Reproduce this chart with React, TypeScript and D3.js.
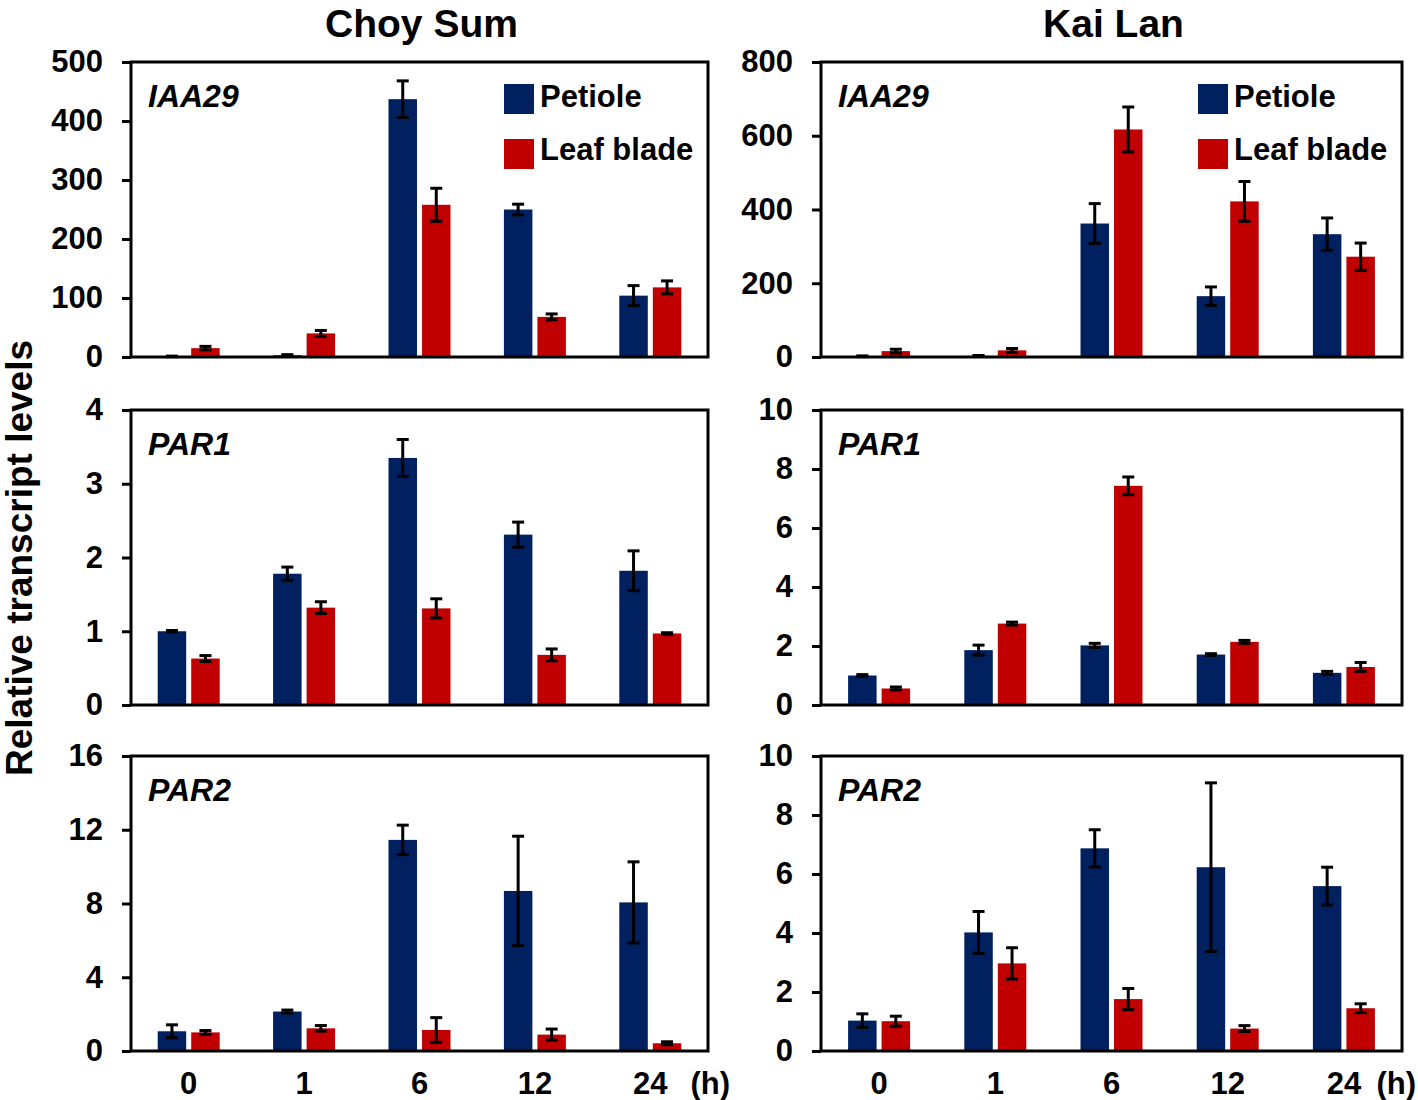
import React, { useEffect, useRef } from "react";
import * as d3 from "d3";

// time points (h) and the two tissues
const hours = ["0", "1", "6", "12", "24"];
const tissues = ["Petiole", "Leaf blade"];
const columnTitles = ["Choy Sum", "Kai Lan"];

// Choy Sum
const choyIAA29Petiole = [1, 3, 437, 250, 104];
const choyIAA29PetioleErr = [0.5, 1, 31, 9, 17];
const choyIAA29Blade = [15, 40, 258, 68, 118];
const choyIAA29BladeErr = [3, 5, 28, 5, 11];

const choyPAR1Petiole = [1.0, 1.78, 3.35, 2.31, 1.82];
const choyPAR1PetioleErr = [0.01, 0.09, 0.25, 0.17, 0.27];
const choyPAR1Blade = [0.63, 1.32, 1.31, 0.68, 0.97];
const choyPAR1BladeErr = [0.04, 0.08, 0.13, 0.08, 0.01];

const choyPAR2Petiole = [1.07, 2.14, 11.45, 8.68, 8.06];
const choyPAR2PetioleErr = [0.35, 0.08, 0.8, 2.97, 2.2];
const choyPAR2Blade = [1.01, 1.23, 1.14, 0.89, 0.42];
const choyPAR2BladeErr = [0.1, 0.15, 0.67, 0.3, 0.08];

// Kai Lan
const kaiIAA29Petiole = [2, 3, 362, 165, 333];
const kaiIAA29PetioleErr = [1, 1, 54, 25, 44];
const kaiIAA29Blade = [16, 18, 617, 422, 272];
const kaiIAA29BladeErr = [5, 5, 61, 54, 37];

const kaiPAR1Petiole = [1.0, 1.86, 2.02, 1.71, 1.09];
const kaiPAR1PetioleErr = [0.03, 0.17, 0.07, 0.03, 0.05];
const kaiPAR1Blade = [0.56, 2.76, 7.43, 2.14, 1.29];
const kaiPAR1BladeErr = [0.05, 0.05, 0.3, 0.05, 0.15];

const kaiPAR2Petiole = [1.03, 4.02, 6.87, 6.23, 5.59];
const kaiPAR2PetioleErr = [0.23, 0.71, 0.63, 2.86, 0.64];
const kaiPAR2Blade = [1.01, 2.97, 1.76, 0.76, 1.45];
const kaiPAR2BladeErr = [0.17, 0.53, 0.36, 0.1, 0.15];

// y axis ticks per panel
const choyIAA29Ticks = [0, 100, 200, 300, 400, 500];
const choyPAR1Ticks = [0, 1, 2, 3, 4];
const choyPAR2Ticks = [0, 4, 8, 12, 16];
const kaiIAA29Ticks = [0, 200, 400, 600, 800];
const kaiPAR1Ticks = [0, 2, 4, 6, 8, 10];
const kaiPAR2Ticks = [0, 2, 4, 6, 8, 10];

const panels = [
  { col: 0, row: 0, gene: "IAA29", ticks: choyIAA29Ticks, pet: choyIAA29Petiole, petErr: choyIAA29PetioleErr, blade: choyIAA29Blade, bladeErr: choyIAA29BladeErr },
  { col: 0, row: 1, gene: "PAR1", ticks: choyPAR1Ticks, pet: choyPAR1Petiole, petErr: choyPAR1PetioleErr, blade: choyPAR1Blade, bladeErr: choyPAR1BladeErr },
  { col: 0, row: 2, gene: "PAR2", ticks: choyPAR2Ticks, pet: choyPAR2Petiole, petErr: choyPAR2PetioleErr, blade: choyPAR2Blade, bladeErr: choyPAR2BladeErr },
  { col: 1, row: 0, gene: "IAA29", ticks: kaiIAA29Ticks, pet: kaiIAA29Petiole, petErr: kaiIAA29PetioleErr, blade: kaiIAA29Blade, bladeErr: kaiIAA29BladeErr },
  { col: 1, row: 1, gene: "PAR1", ticks: kaiPAR1Ticks, pet: kaiPAR1Petiole, petErr: kaiPAR1PetioleErr, blade: kaiPAR1Blade, bladeErr: kaiPAR1BladeErr },
  { col: 1, row: 2, gene: "PAR2", ticks: kaiPAR2Ticks, pet: kaiPAR2Petiole, petErr: kaiPAR2PetioleErr, blade: kaiPAR2Blade, bladeErr: kaiPAR2BladeErr },
];

const colors = { Petiole: "#002060", "Leaf blade": "#C00000" };
const font = "'Liberation Sans', Arial, Helvetica, sans-serif";

export default function App() {
  const ref = useRef<SVGSVGElement>(null);

  useEffect(() => {
    const width = 1418;
    const height = 1100;
    const colLeft = [131, 821];
    const colRight = [708, 1402];
    const rowTop = [62, 410, 756];
    const plotH = 295;
    const groupW = 62;

    const svg = d3.select(ref.current).attr("width", width).attr("height", height);
    svg.selectAll("*").remove();

    // column titles
    columnTitles.forEach((t, i) => {
      svg.append("text")
        .attr("x", (colLeft[i] + colRight[i]) / 2 + 2)
        .attr("y", 37)
        .attr("text-anchor", "middle")
        .attr("font-family", font)
        .attr("font-weight", "bold")
        .attr("font-size", "39px")
        .text(t);
    });

    // shared y title
    svg.append("text")
      .attr("transform", "translate(32, 558) rotate(-90)")
      .attr("text-anchor", "middle")
      .attr("font-family", font)
      .attr("font-weight", "bold")
      .attr("font-size", "37px")
      .text("Relative transcript levels");

    panels.forEach(p => {
      const left = colLeft[p.col];
      const right = colRight[p.col];
      const top = rowTop[p.row];
      const bottom = top + plotH;
      const g = svg.append("g");

      const x0 = d3.scaleBand().domain(hours).range([left, right]);
      const x1 = d3.scaleBand().domain(tissues).range([0, groupW]).paddingInner(0.15);
      const y = d3.scaleLinear().domain([0, p.ticks[p.ticks.length - 1]]).range([bottom, top]);

      const rows = hours.flatMap((h, i) => [
        { h, tissue: "Petiole", v: p.pet[i], e: p.petErr[i] },
        { h, tissue: "Leaf blade", v: p.blade[i], e: p.bladeErr[i] },
      ]);
      const bx = d => (x0(d.h) as number) + (x0.bandwidth() - groupW) / 2 + (x1(d.tissue) as number);

      // bars
      g.selectAll("rect.bar")
        .data(rows)
        .enter()
        .append("rect")
        .attr("class", "bar")
        .attr("x", d => bx(d))
        .attr("y", d => y(d.v))
        .attr("width", x1.bandwidth())
        .attr("height", d => bottom - y(d.v))
        .attr("fill", d => colors[d.tissue]);

      // error bars
      const eb = g.selectAll("g.err").data(rows).enter().append("g").attr("class", "err")
        .attr("stroke", "#000").attr("stroke-width", 3);
      eb.append("line")
        .attr("x1", d => bx(d) + x1.bandwidth() / 2)
        .attr("x2", d => bx(d) + x1.bandwidth() / 2)
        .attr("y1", d => y(d.v - d.e))
        .attr("y2", d => y(d.v + d.e));
      [1, -1].forEach(s => {
        eb.append("line")
          .attr("x1", d => bx(d) + x1.bandwidth() / 2 - 6)
          .attr("x2", d => bx(d) + x1.bandwidth() / 2 + 6)
          .attr("y1", d => y(d.v + s * d.e))
          .attr("y2", d => y(d.v + s * d.e));
      });

      // frame
      g.append("rect")
        .attr("x", left)
        .attr("y", top)
        .attr("width", right - left)
        .attr("height", plotH)
        .attr("fill", "none")
        .attr("stroke", "#000")
        .attr("stroke-width", 3);

      // y axis
      const yAxis = d3.axisLeft(y).tickValues(p.ticks).tickSize(9).tickPadding(19).tickFormat(d3.format("d"));
      const ax = g.append("g").attr("transform", `translate(${left}, 0)`).call(yAxis);
      ax.select(".domain").remove();
      ax.selectAll(".tick line").attr("stroke", "#000").attr("stroke-width", 3);
      ax.selectAll(".tick text")
        .attr("font-family", font)
        .attr("font-weight", "bold")
        .attr("font-size", "31px")
        .attr("fill", "#000");

      // gene name
      g.append("text")
        .attr("x", left + 17)
        .attr("y", top + 45)
        .attr("font-family", font)
        .attr("font-weight", "bold")
        .attr("font-style", "italic")
        .attr("font-size", "32px")
        .text(p.gene);

      // legend in the top row
      if (p.row === 0) {
        tissues.forEach((t, i) => {
          g.append("rect")
            .attr("x", right - 204)
            .attr("y", top + 22 + i * 55)
            .attr("width", 30)
            .attr("height", 30)
            .attr("fill", colors[t]);
          g.append("text")
            .attr("x", right - 168)
            .attr("y", top + 45 + i * 53)
            .attr("font-family", font)
            .attr("font-weight", "bold")
            .attr("font-size", "31px")
            .text(t);
        });
      }

      // x labels in the bottom row
      if (p.row === 2) {
        hours.forEach(h => {
          g.append("text")
            .attr("x", (x0(h) as number) + x0.bandwidth() / 2)
            .attr("y", bottom + 43)
            .attr("text-anchor", "middle")
            .attr("font-family", font)
            .attr("font-weight", "bold")
            .attr("font-size", "31px")
            .text(h);
        });
        g.append("text")
          .attr("x", Math.min(right + 22, 1416))
          .attr("y", bottom + 43)
          .attr("text-anchor", "end")
          .attr("font-family", font)
          .attr("font-weight", "bold")
          .attr("font-size", "31px")
          .text("(h)");
      }
    });
  }, []);

  return (
    <svg ref={ref} style={{ position: "absolute", left: 0, top: 0, background: "#fff" }} />
  );
}
